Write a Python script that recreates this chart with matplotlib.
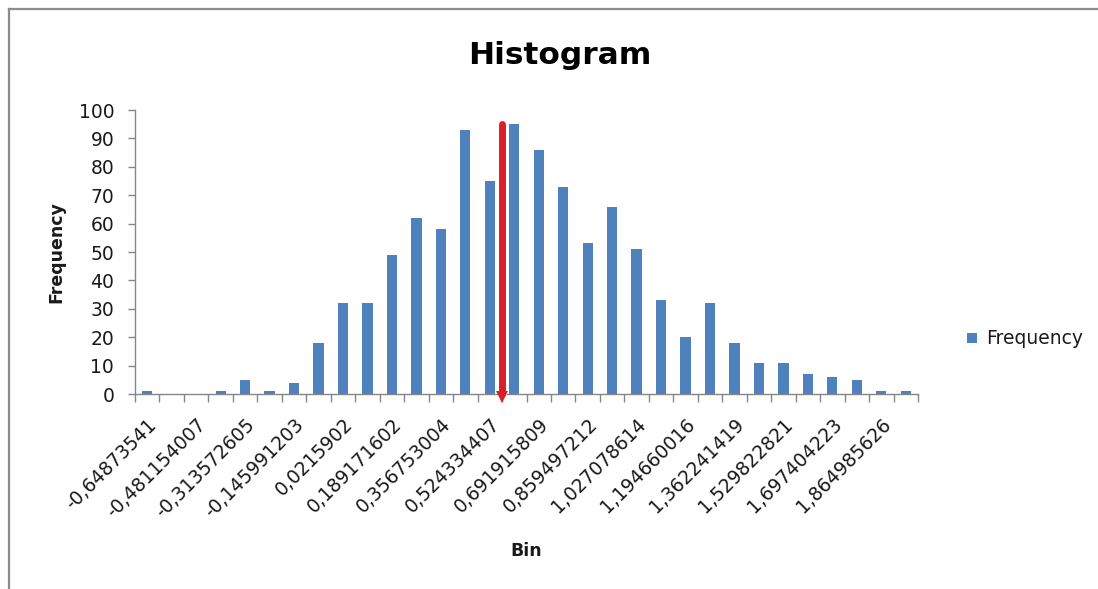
import numpy as np
import matplotlib
matplotlib.use("Agg")
import matplotlib.pyplot as plt
import matplotlib.transforms as mtransforms
import matplotlib.patheffects as pe
from matplotlib.lines import Line2D

# ---- data ----
frequencies = [1, 0, 0, 1, 5, 1, 4, 18, 32, 32, 49, 62, 58, 93, 75,
               95, 86, 73, 53, 66, 51, 33, 20, 32, 18, 11, 11, 7, 6, 5, 1, 1]
tick_labels = ["-0,64873541", "-0,481154007", "-0,313572605", "-0,145991203",
               "0,0215902", "0,189171602", "0,356753004", "0,524334407",
               "0,691915809", "0,859497212", "1,027078614", "1,194660016",
               "1,362241419", "1,529822821", "1,697404223", "1,864985626"]
series_name = "Frequency"
title = "Histogram"
x_title = "Bin"
y_title = "Frequency"
marker_bin = 14.5      # position of red marker (between bins, in bin units)
marker_height = 95

bar_color = "#4F81BD"
red = "#D9202A"
axis_gray = "#868686"
text_color = "#1a1a1a"

plt.rcParams['font.family'] = ['DejaVu Sans']

fig = plt.figure(figsize=(10.98, 5.89), dpi=100)
W, H = 1098, 589
ax = fig.add_axes([135 / W, 1 - 394 / H, (918 - 135) / W, (394 - 110) / H])

x = np.arange(len(frequencies))
ax.bar(x, frequencies, width=0.42, color=bar_color, label=series_name, zorder=2)

ax.set_xlim(-0.5, len(frequencies) - 0.5)
ax.set_ylim(0, 100)
ax.set_yticks(np.arange(0, 101, 10))

# category ticks
label_pos = np.arange(0, len(frequencies), 2)[:len(tick_labels)]
ax.set_xticks(label_pos)
ax.set_xticklabels(tick_labels, rotation=45, ha='right', rotation_mode='anchor',
                   fontsize=13.5, color=text_color)
ax.set_xticks(np.arange(-0.5, len(frequencies), 1.0), minor=True)
ax.tick_params(axis='x', which='major', length=0, pad=15)
ax.tick_params(axis='x', which='minor', length=5.5, color=axis_gray, width=1)
ax.tick_params(axis='y', length=5, color=axis_gray, width=1, pad=10,
               labelsize=13.5, labelcolor=text_color)

for s in ['top', 'right']:
    ax.spines[s].set_visible(False)
for s in ['left', 'bottom']:
    ax.spines[s].set_color(axis_gray)
    ax.spines[s].set_linewidth(1)

ax.set_ylabel(y_title, fontsize=12.5, fontweight='bold', color=text_color)
ax.yaxis.set_label_coords(-0.101, 0.5)
ax.yaxis.label.set_va('center')
ax.set_xlabel(x_title, fontsize=12.5, fontweight='bold', color=text_color)
ax.xaxis.set_label_coords(0.5, -0.553)
ax.xaxis.label.set_va('center')

fig.text(560 / W, 1 - 55 / H, title, ha='center', va='center',
         fontsize=22.5, fontweight='bold', color='black')

# red marker line with arrow at bottom
halo = [pe.Stroke(linewidth=6.5, foreground='white'), pe.Normal()]
ax.plot([marker_bin, marker_bin], [0, marker_height], color=red, lw=5,
        solid_capstyle='round', zorder=4, clip_on=False, path_effects=halo)
off = mtransforms.offset_copy(ax.transData, fig=fig, y=-3, units='dots')
ax.plot([marker_bin], [0], marker='v', markersize=8, color=red,
        markeredgewidth=0, transform=off, zorder=4, clip_on=False)

# legend
ax.legend(loc='center left', bbox_to_anchor=(958 / W, 1 - 339 / H),
          bbox_transform=fig.transFigure, frameon=False, fontsize=13.5,
          handlelength=0.5, handleheight=0.5, handletextpad=0.5,
          labelcolor=text_color, borderpad=0)

# chart frame (left and top edges visible)
fig.add_artist(Line2D([8.5 / W, 8.5 / W], [0, 1 - 8.5 / H], transform=fig.transFigure,
                      color='#8c8c8c', lw=1.6))
fig.add_artist(Line2D([8.5 / W, 1], [1 - 8.5 / H, 1 - 8.5 / H], transform=fig.transFigure,
                      color='#8c8c8c', lw=1.6))

fig.savefig("out.png", dpi=100)
